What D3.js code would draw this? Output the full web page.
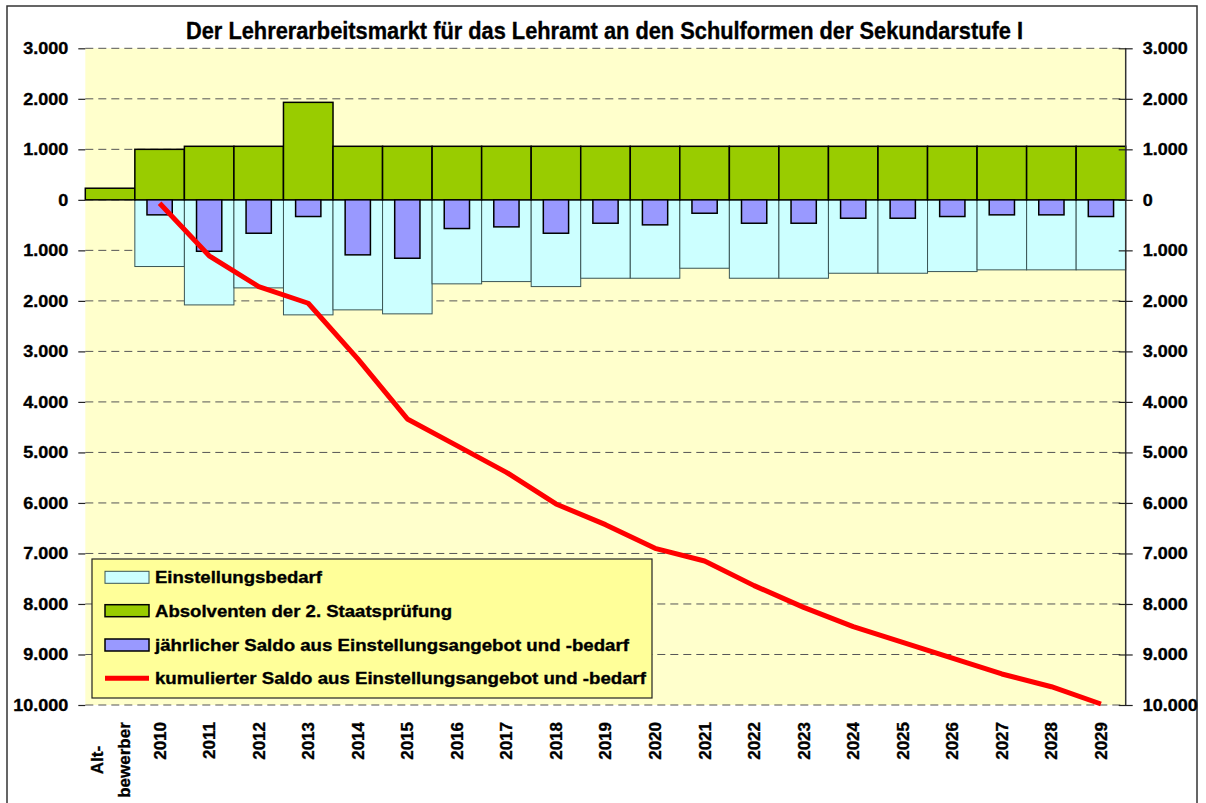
<!DOCTYPE html>
<html>
<head>
<meta charset="utf-8">
<script src="https://cdn.jsdelivr.net/npm/d3@7"></script>
<style>
  body { margin: 0; background: #fff; }
  text { font-family: "Liberation Sans", Arial, sans-serif; font-weight: bold; fill: #000; stroke: #000; stroke-width: 0.35px; }
</style>
</head>
<body>
<div id="chart"></div>
<script>
const categories = ["Alt-bewerber", "2010", "2011", "2012", "2013", "2014", "2015", "2016", "2017", "2018", "2019",
  "2020", "2021", "2022", "2023", "2024", "2025", "2026", "2027", "2028", "2029"];
const absolventen = [230, 1000, 1060, 1060, 1930, 1060, 1060, 1060, 1060, 1060, 1060,
  1060, 1060, 1060, 1060, 1060, 1060, 1060, 1060, 1060, 1060];
const einstellungsbedarf = [null, -1320, -2080, -1743, -2277, -2178, -2257, -1663, -1618, -1717, -1552,
  -1552, -1354, -1552, -1552, -1453, -1453, -1420, -1386, -1386, -1386];
const saldo = [null, -297, -1018, -661, -330, -1089, -1156, -568, -535, -661, -463,
  -495, -265, -463, -463, -364, -364, -330, -297, -297, -330];
const kumuliert = [null, -67, -1107, -1717, -2047, -3149, -4337, -4865, -5394, -6020, -6430,
  -6899, -7150, -7637, -8067, -8450, -8760, -9070, -9386, -9638, -9980];
const yTicks = [3000, 2000, 1000, 0, -1000, -2000, -3000, -4000, -5000, -6000, -7000, -8000, -9000, -10000];
const legendItems = [
  { label: "Einstellungsbedarf", type: "cyan", len: 167 },
  { label: "Absolventen der 2. Staatsprüfung", type: "green", len: 297 },
  { label: "jährlicher Saldo aus Einstellungsangebot und -bedarf", type: "purple", len: 474 },
  { label: "kumulierter Saldo aus Einstellungsangebot und -bedarf", type: "line", len: 491 }
];

const W = 1206, H = 803;
const margin = { top: 48.3, left: 85.3, right: 80.3, bottom: 98 };
const width = W - margin.left - margin.right;
const height = 705 - margin.top;

const colors = { cyan: "#CCFFFF", green: "#99CC00", purple: "#9999FF", line: "#FF0000" };
const de = d3.formatLocale({ decimal: ",", thousands: ".", grouping: [3], currency: ["", "€"] });
const fmt = v => de.format(",")(Math.abs(v));

const svg = d3.select("#chart").append("svg")
  .attr("width", W).attr("height", H);

// outer frame
svg.append("rect")
  .attr("x", 7).attr("y", 6).attr("width", 1190).attr("height", 820)
  .attr("fill", "#fff").attr("stroke", "#333").attr("stroke-width", 1.5);

svg.append("text")
  .attr("x", 604.5).attr("y", 39.3)
  .attr("text-anchor", "middle")
  .attr("textLength", 837).attr("lengthAdjust", "spacingAndGlyphs")
  .style("font-size", "24px")
  .text("Der Lehrerarbeitsmarkt für das Lehramt an den Schulformen der Sekundarstufe I");

const g = svg.append("g").attr("transform", `translate(${margin.left},${margin.top})`);

const x = d3.scaleBand().domain(categories).range([0, width]).padding(0);
const y = d3.scaleLinear().domain([-10000, 3000]).range([height, 0]);

g.append("rect").attr("width", width).attr("height", height).attr("fill", "#FFFFCC");

// gridlines
g.selectAll(".grid").data(yTicks).enter().append("line")
  .attr("x1", 0).attr("x2", width)
  .attr("y1", d => y(d)).attr("y2", d => y(d))
  .attr("stroke", "#555").attr("stroke-width", 1).attr("stroke-dasharray", "8,5");

const idx = d3.range(categories.length);

// Einstellungsbedarf (negative)
g.selectAll(".cyan").data(idx.filter(i => einstellungsbedarf[i] !== null)).enter().append("rect")
  .attr("x", i => x(categories[i]))
  .attr("width", x.bandwidth())
  .attr("y", y(0))
  .attr("height", i => y(einstellungsbedarf[i]) - y(0))
  .attr("fill", colors.cyan).attr("stroke", "#3a5555").attr("stroke-width", 1);

// Absolventen (positive)
g.selectAll(".green").data(idx).enter().append("rect")
  .attr("x", i => x(categories[i]))
  .attr("width", x.bandwidth())
  .attr("y", i => y(absolventen[i]))
  .attr("height", i => y(0) - y(absolventen[i]))
  .attr("fill", colors.green).attr("stroke", "#000").attr("stroke-width", 1.5);

// jährlicher Saldo
const pw = x.bandwidth() * 0.51;
g.selectAll(".purple").data(idx.filter(i => saldo[i] !== null)).enter().append("rect")
  .attr("x", i => x(categories[i]) + (x.bandwidth() - pw) / 2)
  .attr("width", pw)
  .attr("y", y(0))
  .attr("height", i => y(saldo[i]) - y(0))
  .attr("fill", colors.purple).attr("stroke", "#000").attr("stroke-width", 1.5);

// kumulierter Saldo
const line = d3.line()
  .defined(i => kumuliert[i] !== null)
  .x(i => x(categories[i]) + x.bandwidth() / 2)
  .y(i => y(kumuliert[i]));
g.append("path").datum(idx)
  .attr("d", line)
  .attr("fill", "none").attr("stroke", colors.line)
  .attr("stroke-width", 5).attr("stroke-linejoin", "round");

// left axis
const left = g.append("g").call(d3.axisLeft(y).tickValues(yTicks).tickSize(7).tickPadding(10).tickFormat(fmt));
left.select(".domain").remove();
left.selectAll("line").attr("stroke", "#222").attr("stroke-width", 1.2);
left.selectAll("text").style("font-size", "17px").attr("fill", "#000");

// right axis
const right = g.append("g").attr("transform", `translate(${width},0)`)
  .call(d3.axisRight(y).tickValues(yTicks).tickSize(7).tickPadding(10).tickFormat(fmt));
right.select(".domain").attr("stroke", "#333").attr("stroke-width", 1.5).attr("d", `M0,0V${height}`);
right.selectAll(".tick line").attr("x1", -7).attr("stroke", "#222").attr("stroke-width", 1.2);
right.selectAll("text").style("font-size", "17px").attr("fill", "#000");

[left, right].forEach(ax => ax.selectAll("text").each(function () {
  const t = d3.select(this);
  t.attr("textLength", this.getComputedTextLength() * 1.06).attr("lengthAdjust", "spacingAndGlyphs");
}));

// category labels
const xl = g.append("g").attr("transform", `translate(0,${height})`);
idx.forEach(i => {
  const cx = x(categories[i]) + x.bandwidth() / 2;
  if (i === 0) {
    const parts = ["Alt-", "bewerber"];
    parts.forEach((p, k) => {
      xl.append("text")
        .attr("transform", `translate(${cx - 13 + k * 27},55) rotate(-90)`)
        .attr("text-anchor", "middle").attr("dy", "0.35em")
        .style("font-size", "17px")
        .text(p);
    });
  } else {
    xl.append("text")
      .attr("transform", `translate(${cx},17) rotate(-90)`)
      .attr("text-anchor", "end").attr("dy", "0.35em")
      .style("font-size", "17px")
      .text(categories[i]);
  }
});

// legend
const lg = svg.append("g").attr("transform", "translate(92,559)");
lg.append("rect").attr("width", 560).attr("height", 139)
  .attr("fill", "#FFFF99").attr("stroke", "#222").attr("stroke-width", 1.2);
const rowY = [18.3, 51.7, 86, 119.3];
legendItems.forEach((item, k) => {
  const row = lg.append("g").attr("transform", `translate(0,${rowY[k]})`);
  if (item.type === "line") {
    row.append("line").attr("x1", 13).attr("x2", 57).attr("y1", 0).attr("y2", 0)
      .attr("stroke", colors.line).attr("stroke-width", 5);
  } else {
    row.append("rect").attr("x", 13).attr("y", -6).attr("width", 44).attr("height", 12)
      .attr("fill", colors[item.type])
      .attr("stroke", item.type === "cyan" ? "#3a5555" : "#000")
      .attr("stroke-width", item.type === "cyan" ? 1 : 1.5);
  }
  row.append("text").attr("x", 63).attr("dy", "0.35em")
    .attr("textLength", item.len).attr("lengthAdjust", "spacingAndGlyphs")
    .style("font-size", "17px")
    .text(item.label);
});
</script>
</body>
</html>
